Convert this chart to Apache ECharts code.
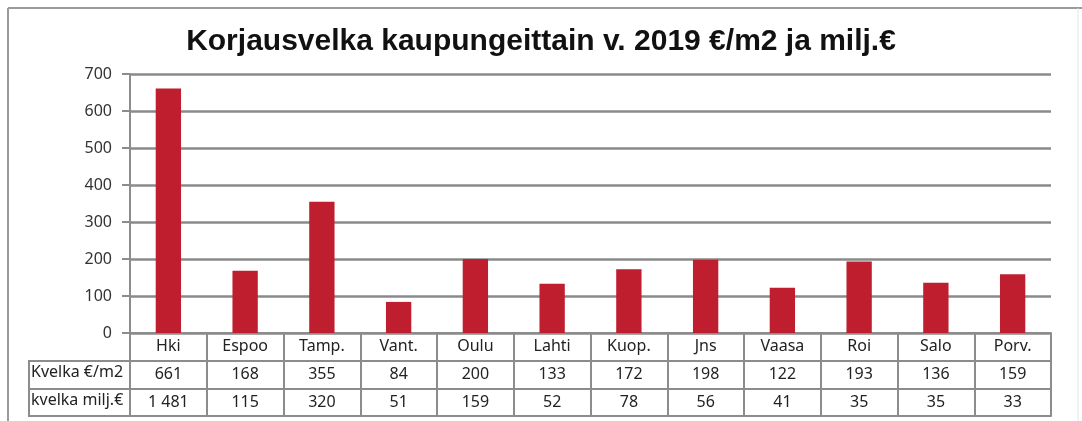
<!DOCTYPE html>
<html>
<head>
<meta charset="utf-8">
<script src="https://cdn.jsdelivr.net/npm/echarts@6/dist/echarts.min.js"></script>
<style>
html,body{margin:0;padding:0;background:#fff;}
#chart{width:1082px;height:421px;}
</style>
</head>
<body>
<div id="chart"></div>
<script>
const titleText = 'Korjausvelka kaupungeittain v. 2019 €/m2 ja milj.€';
const categories = ['Hki','Espoo','Tamp.','Vant.','Oulu','Lahti','Kuop.','Jns','Vaasa','Roi','Salo','Porv.'];
const kvelkaM2 = [661,168,355,84,200,133,172,198,122,193,136,159];
const kvelkaMilj = ['1 481','115','320','51','159','52','78','56','41','35','35','33'];
const rowLabels = ['Kvelka €/m2','kvelka milj.€'];
const yTicks = [0,100,200,300,400,500,600,700];

const gridCol = '#8a8a8a';
const tableCol = '#8c8c8c';
const font = 'Noto Sans';

const chart = echarts.init(document.getElementById('chart'), null, {renderer:'canvas'});

function tableAxis(offset, rowData, showLabel){
  return {
    type:'category', data:categories, position:'bottom', offset:offset,
    boundaryGap:true,
    axisLine:{show:true, lineStyle:{color:tableCol, width:2}},
    axisTick:{show:false},
    axisLabel:{show:showLabel, interval:0, margin:5, fontFamily:font, fontSize:16, color:'#222',
      formatter:(v, i)=> rowData ? rowData[i] : ''},
    splitLine:{show:false}
  };
}

chart.setOption({
  animation:false,
  title:{text:titleText, left:'center', top:22,
    textStyle:{fontFamily:'Liberation Sans', fontWeight:'bold', fontSize:30, color:'#111'}},
  grid:{left:130, right:31, top:74, bottom:88, containLabel:false},
  xAxis:[
    {
      type:'category', data:categories, position:'bottom', boundaryGap:true,
      axisLine:{show:true, lineStyle:{color:tableCol, width:2}},
      axisTick:{show:true, inside:false, length:83, alignWithLabel:false, interval:0, lineStyle:{color:tableCol, width:2}},
      axisLabel:{interval:0, margin:5, fontFamily:font, fontSize:16, color:'#222'},
      splitLine:{show:false}
    },
    tableAxis(28, kvelkaM2.map(String), true),
    tableAxis(56, kvelkaMilj, true),
    tableAxis(83, null, false)
  ],
  yAxis:{
    type:'value', min:0, max:700, interval:100,
    axisLine:{show:true, lineStyle:{color:tableCol, width:2}},
    axisTick:{show:true, length:8, lineStyle:{color:tableCol, width:2}},
    axisLabel:{margin:18, fontFamily:font, fontSize:16, color:'#333',
      formatter:(v)=> yTicks.includes(v) ? String(v) : ''},
    splitLine:{show:true, lineStyle:{color:gridCol, width:2.5}}
  },
  series:[{
    type:'bar', data:kvelkaM2, xAxisIndex:0, barWidth:'33%',
    itemStyle:{color:'#be1e2d'}
  }],
  graphic:[
    {type:'line', shape:{x1:8,y1:8,x2:1082,y2:8}, style:{stroke:'#9a9a9a', lineWidth:2}},
    {type:'line', shape:{x1:8,y1:8,x2:8,y2:421}, style:{stroke:'#9a9a9a', lineWidth:2}},
    {type:'line', shape:{x1:1078,y1:8,x2:1078,y2:421}, style:{stroke:'#e4e4e4', lineWidth:1}},
    {type:'rect', shape:{x:29,y:361,width:101,height:55}, style:{fill:'none', stroke:tableCol, lineWidth:2}},
    {type:'line', shape:{x1:29,y1:389,x2:130,y2:389}, style:{stroke:tableCol, lineWidth:2}},
    {type:'text', left:31, top:364, style:{text:rowLabels[0], font:'16px "Noto Sans"', fill:'#222'}},
    {type:'text', left:31, top:392, style:{text:rowLabels[1], font:'16px "Noto Sans"', fill:'#222'}}
  ]
});
</script>
</body>
</html>
